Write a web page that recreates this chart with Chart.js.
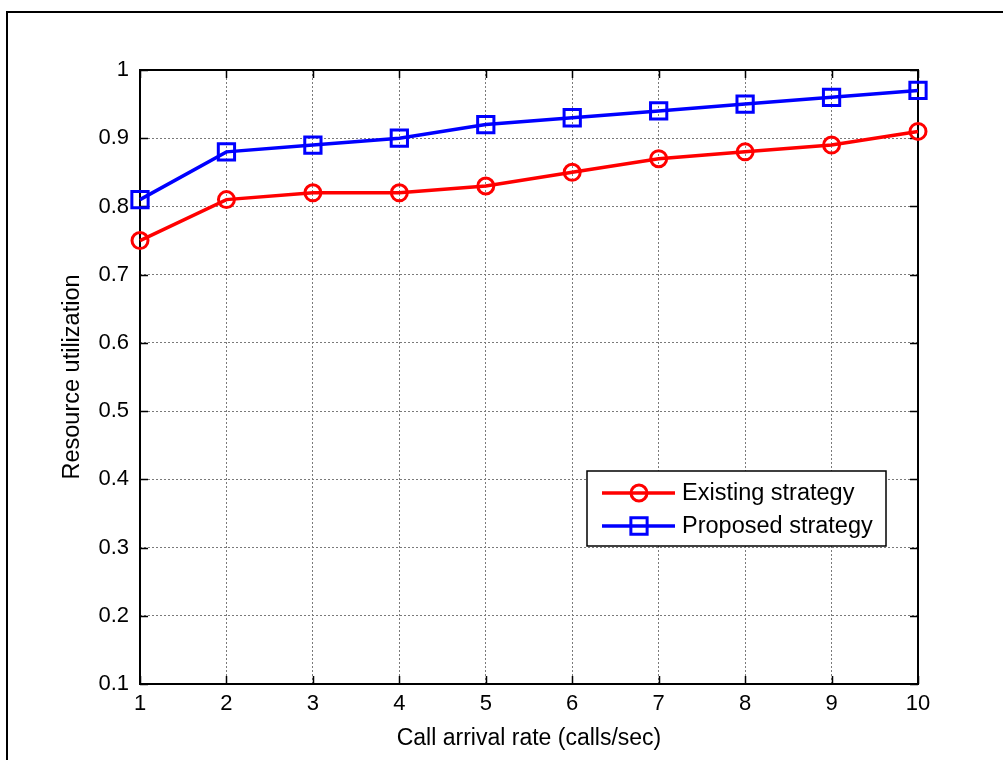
<!DOCTYPE html>
<html>
<head>
<meta charset="utf-8">
<title>Resource utilization vs call arrival rate</title>
<script src="https://cdn.jsdelivr.net/npm/chart.js@4/dist/chart.umd.min.js"></script>
<style>
  html, body { margin: 0; padding: 0; background: #ffffff; }
  #wrap { width: 1003px; height: 760px; }
</style>
</head>
<body>
<div id="wrap"><canvas id="chart" width="1003" height="760"></canvas></div>
<script>
// Call arrival rate (calls/sec)
const arrivalRates = [1, 2, 3, 4, 5, 6, 7, 8, 9, 10];
// Resource utilization per strategy
const existingStrategy = [0.75, 0.81, 0.82, 0.82, 0.83, 0.85, 0.87, 0.88, 0.89, 0.91];
const proposedStrategy = [0.81, 0.88, 0.89, 0.90, 0.92, 0.93, 0.94, 0.95, 0.96, 0.97];
// Axis tick values
const xTickValues = [1, 2, 3, 4, 5, 6, 7, 8, 9, 10];
const yTickValues = [0.1, 0.2, 0.3, 0.4, 0.5, 0.6, 0.7, 0.8, 0.9, 1];
const seriesNames = ['Existing strategy', 'Proposed strategy'];

const FONT = 'Arial, "Liberation Sans", Helvetica, sans-serif';

// Box around the axes with inward tick marks, plus the figure frame and legend
const matlabFrame = {
  id: 'matlabFrame',
  beforeDatasetsDraw(chart) {
    const { ctx, chartArea: a, scales } = chart;
    const tick = 8;
    ctx.save();
    ctx.strokeStyle = '#000';
    ctx.lineWidth = 1.5;
    ctx.beginPath();
    for (const v of xTickValues) {
      const x = Math.round(scales.x.getPixelForValue(v)) + 0.5;
      ctx.moveTo(x, a.bottom); ctx.lineTo(x, a.bottom - tick);
      ctx.moveTo(x, a.top); ctx.lineTo(x, a.top + tick);
    }
    for (const v of yTickValues) {
      const y = Math.round(scales.y.getPixelForValue(v)) + 0.5;
      ctx.moveTo(a.left, y); ctx.lineTo(a.left + tick, y);
      ctx.moveTo(a.right, y); ctx.lineTo(a.right - tick, y);
    }
    ctx.stroke();
    ctx.lineWidth = 2;
    ctx.strokeRect(a.left, a.top, a.right - a.left, a.bottom - a.top);
    ctx.restore();
  },
  afterDraw(chart) {
    const { ctx } = chart;
    ctx.save();
    // figure frame
    ctx.fillStyle = '#000';
    ctx.fillRect(6, 11, 2, chart.height);
    ctx.fillRect(6, 11, chart.width, 2);

    // legend
    const lx = 587, ly = 471, lw = 299, lh = 75;
    ctx.fillStyle = '#fff';
    ctx.fillRect(lx, ly, lw, lh);
    ctx.strokeStyle = '#000';
    ctx.lineWidth = 1.5;
    ctx.strokeRect(lx, ly, lw, lh);
    const rows = [ly + 22, ly + 55];
    chart.data.datasets.forEach((ds, i) => {
      const y = rows[i];
      ctx.strokeStyle = ds.borderColor;
      ctx.lineWidth = ds.borderWidth;
      ctx.beginPath();
      ctx.moveTo(602, y); ctx.lineTo(675, y);
      ctx.stroke();
      ctx.fillStyle = 'rgba(0,0,0,0)';
      ctx.lineWidth = ds.pointBorderWidth;
      Chart.helpers.drawPoint(ctx, {
        pointStyle: ds.pointStyle,
        radius: ds.pointRadius,
        rotation: 0,
        borderWidth: ds.pointBorderWidth
      }, 639, y);
      ctx.fillStyle = '#000';
      ctx.font = '23.5px ' + FONT;
      ctx.textAlign = 'left';
      ctx.textBaseline = 'middle';
      ctx.fillText(ds.label, 682, y + 1);
    });
    ctx.restore();
  }
};

const ctx = document.getElementById('chart').getContext('2d');
const chart = new Chart(ctx, {
  type: 'line',
  data: {
    datasets: [
      {
        label: seriesNames[0],
        data: arrivalRates.map((x, i) => ({ x, y: existingStrategy[i] })),
        borderColor: '#ff0000',
        backgroundColor: 'rgba(0,0,0,0)',
        borderWidth: 3.5,
        pointStyle: 'circle',
        pointRadius: 8,
        pointHoverRadius: 8,
        pointBorderWidth: 3,
        pointBackgroundColor: 'rgba(0,0,0,0)',
        pointBorderColor: '#ff0000',
        tension: 0,
        clip: false
      },
      {
        label: seriesNames[1],
        data: arrivalRates.map((x, i) => ({ x, y: proposedStrategy[i] })),
        borderColor: '#0000ff',
        backgroundColor: 'rgba(0,0,0,0)',
        borderWidth: 3.5,
        pointStyle: 'rect',
        pointRadius: 11.5,
        pointHoverRadius: 11.5,
        pointBorderWidth: 3,
        pointBackgroundColor: 'rgba(0,0,0,0)',
        pointBorderColor: '#0000ff',
        tension: 0,
        clip: false
      }
    ]
  },
  options: {
    responsive: false,
    animation: false,
    devicePixelRatio: 1,
    layout: { padding: { left: 0, top: 70, right: 85, bottom: 0 } },
    plugins: {
      legend: { display: false },
      tooltip: { enabled: false },
      title: { display: false }
    },
    scales: {
      x: {
        type: 'linear',
        min: 1,
        max: 10,
        afterBuildTicks(scale) { scale.ticks = xTickValues.map(v => ({ value: v })); },
        afterFit(scale) { scale.height = 76; },
        grid: { color: '#7a7a7a', lineWidth: 1, drawTicks: false },
        border: { display: false, dash: [2, 2] },
        ticks: {
          color: '#000',
          font: { family: FONT, size: 22 },
          padding: 7,
          maxRotation: 0,
          autoSkip: false,
          callback: v => String(v)
        },
        title: {
          display: true,
          text: 'Call arrival rate (calls/sec)',
          color: '#000',
          font: { family: FONT, size: 23 },
          padding: { top: 0, bottom: 8 }
        }
      },
      y: {
        type: 'linear',
        min: 0.1,
        max: 1,
        afterBuildTicks(scale) { scale.ticks = yTickValues.map(v => ({ value: v })); },
        afterFit(scale) { scale.width = 140; },
        grid: { color: '#7a7a7a', lineWidth: 1, drawTicks: false },
        border: { display: false, dash: [2, 2] },
        ticks: {
          color: '#000',
          font: { family: FONT, size: 22 },
          padding: 11,
          autoSkip: false,
          callback: v => String(v)
        },
        title: {
          display: true,
          text: 'Resource utilization',
          color: '#000',
          font: { family: FONT, size: 23.5 },
          padding: { top: 58, bottom: 0 }
        }
      }
    }
  },
  plugins: [matlabFrame]
});
</script>
</body>
</html>
